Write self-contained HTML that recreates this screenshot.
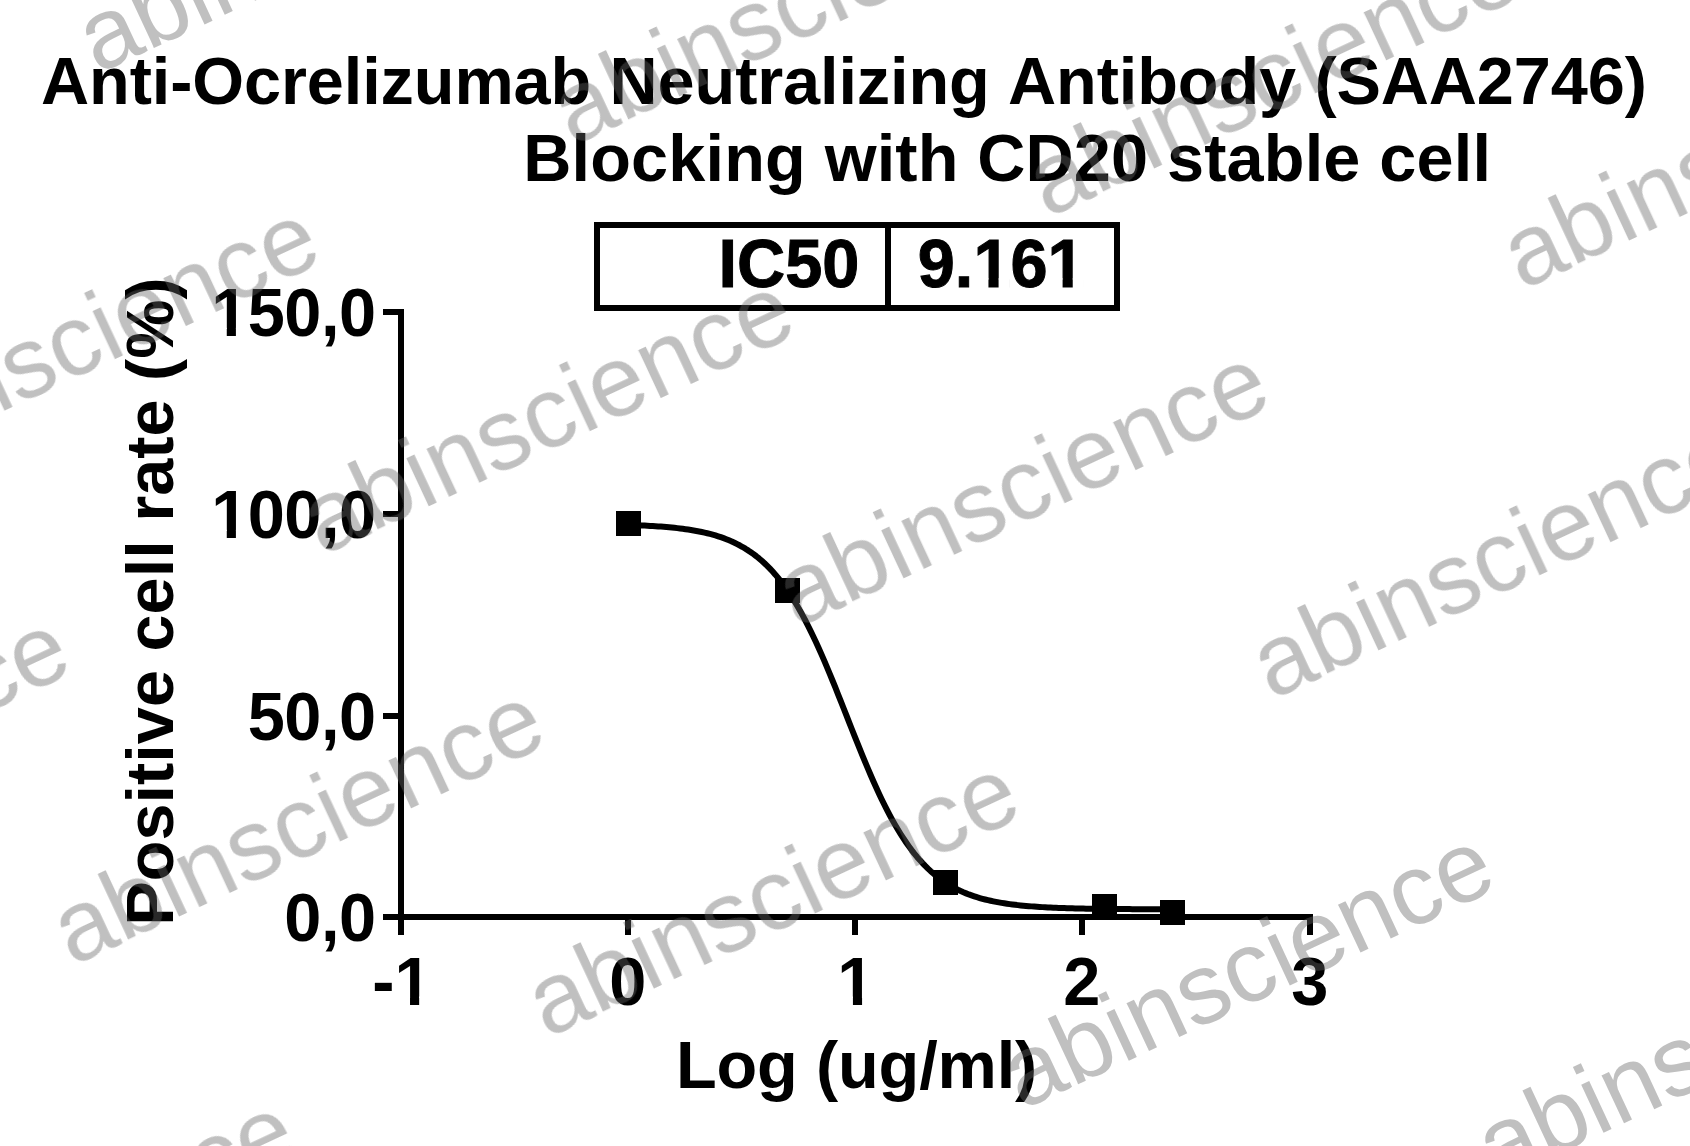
<!DOCTYPE html>
<html><head><meta charset="utf-8"><title>Anti-Ocrelizumab Neutralizing Antibody (SAA2746)</title>
<style>
html,body{margin:0;padding:0;background:#fff;}
body{width:1690px;height:1146px;overflow:hidden;}
svg{display:block;}
.b text{font-family:"Liberation Sans",Arial,Helvetica,sans-serif;font-weight:bold;font-size:66.67px;fill:#000;font-kerning:none;}
.b text.tb{stroke:#000;stroke-width:1px;stroke-linejoin:miter;}
.w text{font-family:"Liberation Sans",Arial,Helvetica,sans-serif;font-weight:normal;font-size:100.0px;fill:#666;font-kerning:none;}
</style></head><body>
<svg width="1690" height="1146" viewBox="0 0 1690 1146">
<rect width="1690" height="1146" fill="#fff"/>
<g class="b">
<text id="t1" x="844" y="104" text-anchor="middle" textLength="1605.8" lengthAdjust="spacing">Anti-Ocrelizumab Neutralizing Antibody (SAA2746)</text>
<text id="t2" x="1007.1" y="181.1" text-anchor="middle" textLength="967.7" lengthAdjust="spacing">Blocking with CD20 stable cell</text>
<rect x="597" y="225" width="520" height="83" fill="none" stroke="#000" stroke-width="6"/>
<rect x="885" y="225" width="6" height="83"/>
<text class="tb" transform="translate(859.3 287.1) scale(1 1.015)" text-anchor="end">IC50</text>
<text class="tb" transform="translate(917.8 287.1) scale(1 1.015)">9.161</text>
<rect x="398" y="309" width="6" height="611"/>
<rect x="383" y="914" width="930" height="6"/>
<rect x="383" y="914" width="16" height="6"/><rect x="383" y="713" width="16" height="6"/><rect x="383" y="511" width="16" height="6"/><rect x="383" y="309" width="16" height="6"/>
<rect x="398" y="919" width="6" height="16"/><rect x="625" y="919" width="6" height="16"/><rect x="852" y="919" width="6" height="16"/><rect x="1079" y="919" width="6" height="16"/><rect x="1307" y="919" width="6" height="16"/>
<text transform="translate(376 941.30) scale(1 1.040)" text-anchor="end" textLength="91.7" lengthAdjust="spacing">0,0</text><text transform="translate(376 740.30) scale(1 1.040)" text-anchor="end" textLength="128.2" lengthAdjust="spacing">50,0</text><text transform="translate(376 538.30) scale(1 1.040)" text-anchor="end" textLength="164.8" lengthAdjust="spacing">100,0</text><text transform="translate(376 336.30) scale(1 1.040)" text-anchor="end" textLength="164.8" lengthAdjust="spacing">150,0</text>
<text transform="translate(401.90 1005) scale(1 1.040)" text-anchor="middle">-1</text><text transform="translate(627.70 1005) scale(1 1.040)" text-anchor="middle">0</text><text transform="translate(855.90 1005) scale(1 1.040)" text-anchor="middle">1</text><text transform="translate(1081.70 1005) scale(1 1.040)" text-anchor="middle">2</text><text transform="translate(1309.70 1005) scale(1 1.040)" text-anchor="middle">3</text>
<g fill="#fff"><rect x="976.31" y="278.29" width="12.13" height="10.71"/><rect x="998.59" y="278.29" width="11.25" height="10.71"/><rect x="1050.46" y="278.29" width="12.13" height="10.71"/><rect x="1072.73" y="278.29" width="11.25" height="10.71"/><rect x="214.13" y="529.82" width="12.63" height="9.88"/><rect x="235.91" y="529.82" width="11.75" height="9.88"/><rect x="214.13" y="327.82" width="12.63" height="9.88"/><rect x="235.91" y="327.82" width="11.75" height="9.88"/><rect x="397.39" y="996.52" width="12.63" height="9.88"/><rect x="419.16" y="996.52" width="11.75" height="9.88"/><rect x="840.29" y="996.52" width="12.63" height="9.88"/><rect x="862.07" y="996.52" width="11.75" height="9.88"/></g>
<text id="xl" x="856.6" y="1088.2" text-anchor="middle" textLength="361.4" lengthAdjust="spacing">Log (ug/ml)</text>
<text transform="translate(173 601.5) rotate(-90)" text-anchor="middle">Positive cell rate (%)</text>
<path d="M628.25 524.96 L630.97 525.05 L633.70 525.15 L636.42 525.25 L639.15 525.36 L641.87 525.48 L644.60 525.61 L647.32 525.75 L650.05 525.90 L652.77 526.06 L655.50 526.23 L658.22 526.41 L660.95 526.61 L663.67 526.82 L666.40 527.04 L669.12 527.29 L671.85 527.55 L674.57 527.83 L677.30 528.13 L680.02 528.45 L682.74 528.79 L685.47 529.16 L688.19 529.56 L690.92 529.99 L693.64 530.44 L696.37 530.93 L699.09 531.45 L701.82 532.01 L704.54 532.62 L707.27 533.26 L709.99 533.95 L712.72 534.69 L715.44 535.47 L718.17 536.32 L720.89 537.22 L723.62 538.19 L726.34 539.22 L729.06 540.32 L731.79 541.49 L734.51 542.75 L737.24 544.09 L739.96 545.52 L742.69 547.04 L745.41 548.66 L748.14 550.39 L750.86 552.22 L753.59 554.17 L756.31 556.25 L759.04 558.45 L761.76 560.78 L764.49 563.26 L767.21 565.88 L769.94 568.65 L772.66 571.57 L775.39 574.66 L778.11 577.92 L780.83 581.35 L783.56 584.95 L786.28 588.74 L789.01 592.71 L791.73 596.87 L794.46 601.22 L797.18 605.76 L799.91 610.49 L802.63 615.41 L805.36 620.52 L808.08 625.81 L810.81 631.29 L813.53 636.94 L816.26 642.77 L818.98 648.75 L821.71 654.89 L824.43 661.17 L827.16 667.59 L829.88 674.12 L832.60 680.75 L835.33 687.47 L838.05 694.27 L840.78 701.12 L843.50 708.01 L846.23 714.93 L848.95 721.85 L851.68 728.75 L854.40 735.62 L857.13 742.45 L859.85 749.21 L862.58 755.88 L865.30 762.46 L868.03 768.93 L870.75 775.28 L873.48 781.48 L876.20 787.54 L878.92 793.44 L881.65 799.18 L884.37 804.74 L887.10 810.12 L889.82 815.31 L892.55 820.32 L895.27 825.14 L898.00 829.77 L900.72 834.21 L903.45 838.46 L906.17 842.51 L908.90 846.39 L911.62 850.08 L914.35 853.59 L917.07 856.92 L919.80 860.09 L922.52 863.09 L925.25 865.94 L927.97 868.62 L930.69 871.17 L933.42 873.56 L936.14 875.83 L938.87 877.96 L941.59 879.97 L944.32 881.86 L947.04 883.63 L949.77 885.30 L952.49 886.87 L955.22 888.34 L957.94 889.72 L960.67 891.02 L963.39 892.23 L966.12 893.36 L968.84 894.43 L971.57 895.42 L974.29 896.35 L977.02 897.23 L979.74 898.04 L982.46 898.80 L985.19 899.51 L987.91 900.18 L990.64 900.80 L993.36 901.38 L996.09 901.92 L998.81 902.42 L1001.54 902.89 L1004.26 903.33 L1006.99 903.74 L1009.71 904.12 L1012.44 904.48 L1015.16 904.81 L1017.89 905.12 L1020.61 905.41 L1023.34 905.68 L1026.06 905.93 L1028.78 906.17 L1031.51 906.38 L1034.23 906.59 L1036.96 906.78 L1039.68 906.95 L1042.41 907.12 L1045.13 907.27 L1047.86 907.41 L1050.58 907.54 L1053.31 907.67 L1056.03 907.78 L1058.76 907.89 L1061.48 907.99 L1064.21 908.08 L1066.93 908.17 L1069.66 908.25 L1072.38 908.33 L1075.11 908.40 L1077.83 908.46 L1080.55 908.52 L1083.28 908.58 L1086.00 908.63 L1088.73 908.68 L1091.45 908.72 L1094.18 908.77 L1096.90 908.81 L1099.63 908.84 L1102.35 908.88 L1105.08 908.91 L1107.80 908.94 L1110.53 908.97 L1113.25 908.99 L1115.98 909.02 L1118.70 909.04 L1121.43 909.06 L1124.15 909.08 L1126.88 909.10 L1129.60 909.11 L1132.32 909.13 L1135.05 909.14 L1137.77 909.16 L1140.50 909.17 L1143.22 909.18 L1145.95 909.19 L1148.67 909.20 L1151.40 909.21 L1154.12 909.22 L1156.85 909.23 L1159.57 909.23 L1162.30 909.24 L1165.02 909.25 L1167.75 909.25 L1170.47 909.26 L1173.20 909.27" fill="none" stroke="#000" stroke-width="6" stroke-linejoin="round"/>
<rect x="616" y="511" width="25" height="25"/><rect x="775" y="578" width="25" height="25"/><rect x="933" y="870" width="25" height="25"/><rect x="1092" y="894" width="25" height="25"/><rect x="1160" y="900" width="25" height="25"/>
</g>
<g class="w" opacity="0.41">
<text transform="translate(-377.25 2.19) rotate(-25.00)">abinscience</text>
<text transform="translate(97.60 74.24) rotate(-25.00)">abinscience</text>
<text transform="translate(-153.00 484.09) rotate(-25.00)">abinscience</text>
<text transform="translate(-402.70 894.34) rotate(-25.00)">abinscience</text>
<text transform="translate(572.45 146.29) rotate(-25.00)">abinscience</text>
<text transform="translate(321.85 556.14) rotate(-25.00)">abinscience</text>
<text transform="translate(72.15 966.39) rotate(-25.00)">abinscience</text>
<text transform="translate(-176.85 1377.34) rotate(-25.00)">abinscience</text>
<text transform="translate(1047.30 218.34) rotate(-25.00)">abinscience</text>
<text transform="translate(796.70 628.19) rotate(-25.00)">abinscience</text>
<text transform="translate(547.00 1038.44) rotate(-25.00)">abinscience</text>
<text transform="translate(1522.15 290.39) rotate(-25.00)">abinscience</text>
<text transform="translate(1271.55 700.24) rotate(-25.00)">abinscience</text>
<text transform="translate(1021.85 1110.49) rotate(-25.00)">abinscience</text>
<text transform="translate(1746.40 772.29) rotate(-25.00)">abinscience</text>
<text transform="translate(1496.70 1182.54) rotate(-25.00)">abinscience</text>
</g>
</svg>
</body></html>
